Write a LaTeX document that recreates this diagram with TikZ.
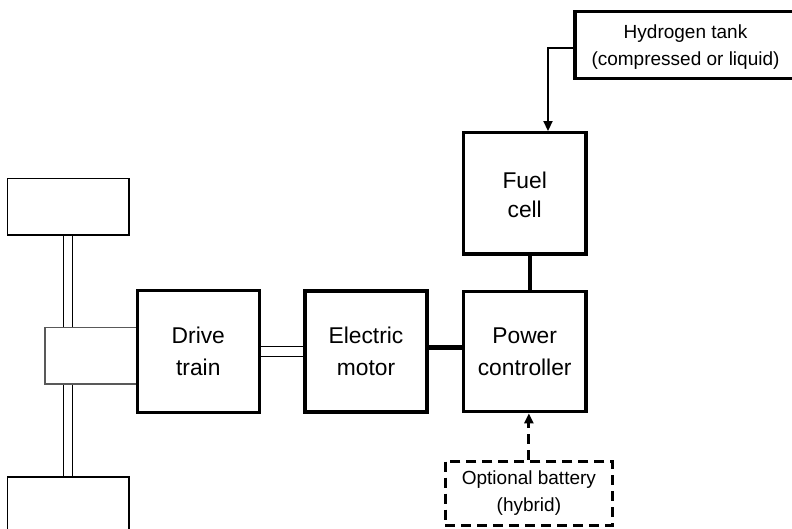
\documentclass[tikz,border=0pt]{standalone}
\usepackage{fontspec}
\setmainfont{Liberation Sans}
\usetikzlibrary{arrows.meta,calc}
\tikzset{
  bigbox/.style={draw, line width=3.4pt, rectangle, inner sep=0pt, align=center,
    font=\fontsize{22.8}{32.5}\selectfont},
  smallbox/.style={draw, line width=3.4pt, rectangle, inner sep=0pt, align=center,
    font=\fontsize{19}{27}\selectfont},
  wheelbox/.style={draw, line width=1.2pt, rectangle, minimum width=121.7pt, minimum height=56.7pt, inner sep=0pt},
  diffbox/.style={draw=black!65, line width=1.2pt, rectangle, minimum width=92.3pt, minimum height=56.3pt, inner sep=0pt},
  shaft/.style={double, double distance=8.5pt, line width=1.1pt},
  powerline/.style={line width=5pt},
  fuelline/.style={line width=4.5pt},
  feed/.style={line width=1.8pt, -{Triangle[length=10pt,width=9pt]}},
  battline/.style={line width=3pt, dash pattern=on 10pt off 6pt, -{Triangle[length=10pt,width=9pt]}},
}
\begin{document}
\begin{tikzpicture}[x=1pt,y=-1pt]
\useasboundingbox (0,0) rectangle (792,528);
% wheels and axle
\node[wheelbox] (wheelT) at (68.2,206.7) {};
\node[wheelbox] (wheelB) at (68.2,505.3) {};
\node[diffbox] (diff) at (91.2,355.9) {};
\draw[shaft] (wheelT.south -| 67.9,0) -- (diff.north -| 67.9,0);
\draw[shaft] (diff.south -| 67.9,0) -- (wheelB.north -| 67.9,0);
% main blocks
\node[bigbox, minimum width=122pt, minimum height=121.6pt] (drive) at (198.3,351.5) {Drive\\train};
\node[bigbox, minimum width=122pt, minimum height=121pt] (motor) at (366,351.5) {Electric\\motor};
\node[bigbox, minimum width=122.7pt, minimum height=120pt] (ctrl) at (524.7,351.7) {Power\\controller};
\node[bigbox, minimum width=122.7pt, minimum height=121.3pt, font=\fontsize{22.8}{29}\selectfont] (fuel) at (524.7,193.4) {\raisebox{-3.5pt}[\height][\depth]{\begin{tabular}{@{}c@{}}Fuel\\cell\end{tabular}}};
\node[smallbox, minimum width=221pt, minimum height=66.6pt] (tank) at (685.5,45) {\raisebox{-2pt}[\height][\depth]{\begin{tabular}{@{}c@{}}Hydrogen tank\\(compressed or liquid)\end{tabular}}};
\node[smallbox, line width=3pt, dash pattern=on 10pt off 6pt, minimum width=167.7pt, minimum height=64pt] (batt) at (528.9,493) {Optional battery\\(hybrid)};
% connectors
\draw[shaft] (drive.east) -- (motor.west);
\draw[powerline] (motor.east |- 0,347.3) -- (ctrl.west |- 0,347.3);
\draw[fuelline] (fuel.south -| 530,0) -- (ctrl.north -| 530,0);
\draw[feed] (tank.west |- 0,48.3) -| (fuel.north -| 548,0);
\draw[battline] (batt.north) -- (ctrl.south -| batt.north);
\end{tikzpicture}
\end{document}
